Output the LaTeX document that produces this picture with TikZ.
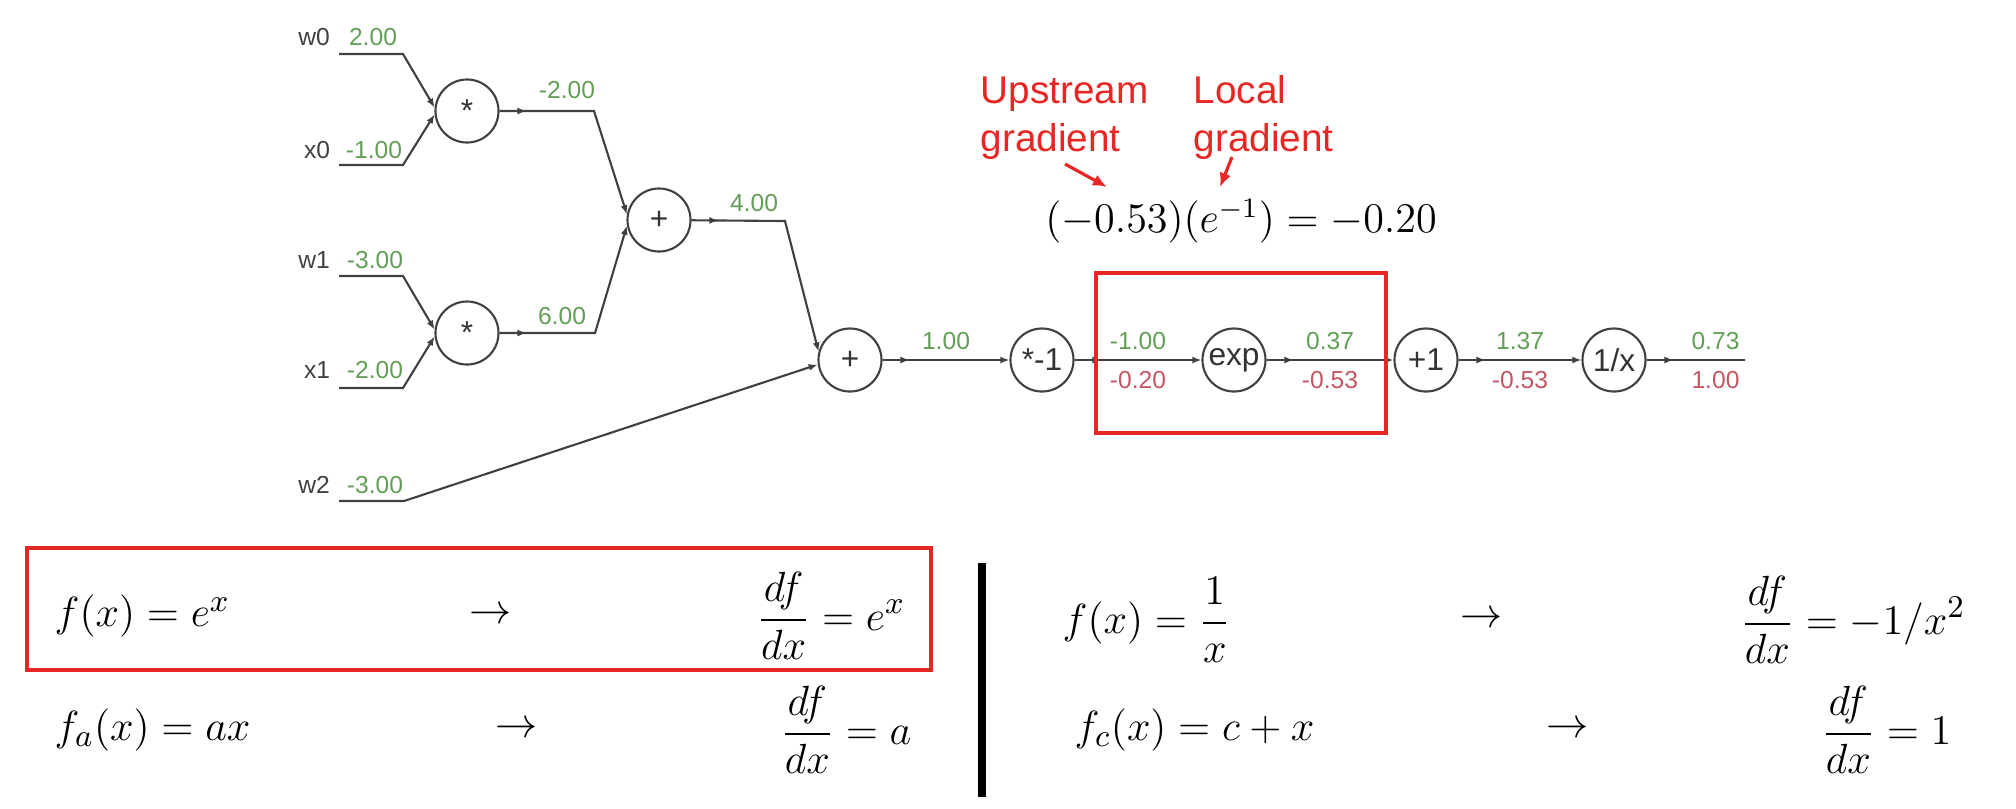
\documentclass[tikz,border=0pt]{standalone}
\usepackage{fontspec}
\newfontfamily\graphfont{Liberation Sans}
\usetikzlibrary{arrows.meta,decorations.markings,positioning}

\definecolor{valgreen}{RGB}{98,158,86}
\definecolor{gradred}{RGB}{194,86,98}
\definecolor{annot}{RGB}{232,38,36}
\definecolor{wirecol}{RGB}{64,64,64}

\tikzset{
  gate/.style={circle,draw=wirecol,line width=0.6pt,minimum size=0.63cm,inner sep=0pt,
    text=black!80,font=\graphfont\fontsize{9}{9}\selectfont},
  link/.style={draw=wirecol,line width=0.6pt,-{Latex[length=2.6pt,width=2pt]}},
  flow/.style={link,postaction={decorate},
    decoration={markings,mark=at position 0.27cm with {\arrow{Latex[length=2.6pt,width=2pt]}}}},
  val/.style={text=valgreen,inner sep=1pt,font=\graphfont\fontsize{7}{8}\selectfont},
  grad/.style={text=gradred,inner sep=1pt,font=\graphfont\fontsize{7}{8}\selectfont},
  inlab/.style={text=black!75,inner sep=1pt,font=\graphfont\fontsize{7}{8}\selectfont},
  formula/.style={inner sep=0pt,font=\fontsize{13}{16}\selectfont}
}

\begin{document}
\begin{tikzpicture}[x=0.01cm, y=-0.01cm]
        \tikzstyle{redbox}=[draw=annot,line width=1.2pt]
        \tikzstyle{annottext}=[text=annot,inner sep=0pt,align=left,font=\graphfont\fontsize{11}{13.4}\selectfont]
        \tikzstyle{pointer}=[draw=annot,line width=0.9pt,-{Latex[length=4pt,width=3.4pt]}]

        \useasboundingbox (0,0) rectangle (2016,808);

        \node[inlab] (I_w0) at (314,37)  {w0};  \node[val] (V_w0) at (373,37)  {2.00};
        \node[inlab] (I_x0) at (317,150) {x0};  \node[val] (V_x0) at (374,150) {-1.00};
        \node[inlab] (I_w1) at (314,260) {w1};  \node[val] (V_w1) at (375,260) {-3.00};
        \node[inlab] (I_x1) at (317,370) {x1};  \node[val] (V_x1) at (375,370) {-2.00};
        \node[inlab] (I_w2) at (314,485) {w2};  \node[val] (V_w2) at (375,485) {-3.00};

        \coordinate (C_w0) at (339,54);  \coordinate (C_w0b) at (403,54);
        \coordinate (C_x0) at (339,165); \coordinate (C_x0b) at (403,165);
        \coordinate (C_w1) at (339,276); \coordinate (C_w1b) at (403,276);
        \coordinate (C_x1) at (339,388); \coordinate (C_x1b) at (403,388);
        \coordinate (C_w2) at (339,501); \coordinate (C_w2b) at (404,501);
        \coordinate (C_m0) at (594,111);
        \coordinate (C_m1) at (595,333);
        \coordinate (C_a0) at (785,221);
        \coordinate (C_out) at (1745,360);

        \node[gate] (G_mul0) at (467,111)  {*};
        \node[gate] (G_mul1) at (467,333)  {*};
        \node[gate] (G_add0) at (659,220)  {+};
        \node[gate] (G_add1) at (850,360)  {+};
        \node[gate] (G_neg)  at (1042,360) {*-1};
        \node[gate] (G_exp)  at (1234,360) {exp};
        \node[gate] (G_inc)  at (1426,360) {+1};
        \node[gate] (G_inv)  at (1614,360) {1/x};

        \draw[link] (C_w0) -- (C_w0b) -- (G_mul0.174);
        \draw[link] (C_x0) -- (C_x0b) -- (G_mul0.186);
        \draw[link] (C_w1) -- (C_w1b) -- (G_mul1.174);
        \draw[link] (C_x1) -- (C_x1b) -- (G_mul1.186);
        \draw[link] (C_w2) -- (C_w2b) -- (G_add1.188);

        \node[val] (V_m0) at (567,90)  {-2.00};
        \node[val] (V_m1) at (562,316) {6.00};
        \node[val] (V_a0) at (754,203) {4.00};
        \draw[flow] (G_mul0) -- (C_m0) -- (G_add0.170);
        \draw[flow] (G_mul1) -- (C_m1) -- (G_add0.190);
        \draw[flow] (G_add0) -- (C_a0) -- (G_add1.165);

        \draw[flow] (G_add1) -- (G_neg) node[midway,above=1.5pt,val] {1.00};
        \draw[flow] (G_neg) -- (G_exp) node[midway,above=1.5pt,val] {-1.00} node[midway,below=2pt,grad] {-0.20};
        \draw[flow] (G_exp) -- (G_inc) node[midway,above=1.5pt,val] {0.37} node[midway,below=2pt,grad] {-0.53};
        \draw[flow] (G_inc) -- (G_inv) node[midway,above=1.5pt,val] {1.37} node[midway,below=2pt,grad] {-0.53};
        \draw[flow,-] (G_inv) -- (C_out) node[pos=0.7,above=1.5pt,val] {0.73} node[pos=0.7,below=2pt,grad] {1.00};

        \draw[redbox] (1096,273) rectangle (1386,433);

        \node[annottext,anchor=base west] (T_up)  at (980,151)  {Upstream\\gradient};
        \node[annottext,anchor=base west] (T_loc) at (1193,151) {Local\\gradient};
        \node[font=\fontsize{12}{14}\selectfont] (F_chain) at (1241,221) {$(-0.53)(e^{-1}) = -0.20$};
        \coordinate (C_up0) at (1065,164);  \coordinate (C_up1) at (1107,187);
        \coordinate (C_loc0) at (1232,157); \coordinate (C_loc1) at (1220,187);
        \draw[pointer] (C_up0) -- (C_up1);
        \draw[pointer] (C_loc0) -- (C_loc1);

        \draw[redbox] (27,548) rectangle (931,670);
        \draw[line width=2.3pt] (982,563) -- (982,797);

        \node[formula,anchor=west] (E_exp)   at (54,616)  {$f(x)=e^x$};
        \node[formula]             (E_expr)  at (491,616) {$\rightarrow$};
        \node[formula,anchor=east] (E_expd)  at (906,616) {$\displaystyle\frac{df}{dx}=e^x$};
        \node[formula,anchor=west] (E_lin)   at (54,730)  {$f_a(x)=ax$};
        \node[formula]             (E_linr)  at (517,730) {$\rightarrow$};
        \node[formula,anchor=east] (E_lind)  at (912,730) {$\displaystyle\frac{df}{dx}=a$};
        \node[formula,anchor=west] (E_inv)   at (1062,620) {$f(x)=\displaystyle\frac{1}{x}$};
        \node[formula]             (E_invr)  at (1482,620) {$\rightarrow$};
        \node[formula,anchor=east] (E_invd)  at (1966,620) {$\displaystyle\frac{df}{dx}=-1/x^2$};
        \node[formula,anchor=west] (E_add)   at (1074,730) {$f_c(x)=c+x$};
        \node[formula]             (E_addr)  at (1568,730) {$\rightarrow$};
        \node[formula,anchor=east] (E_addd)  at (1952,730) {$\displaystyle\frac{df}{dx}=1$};
\end{tikzpicture}
\end{document}
